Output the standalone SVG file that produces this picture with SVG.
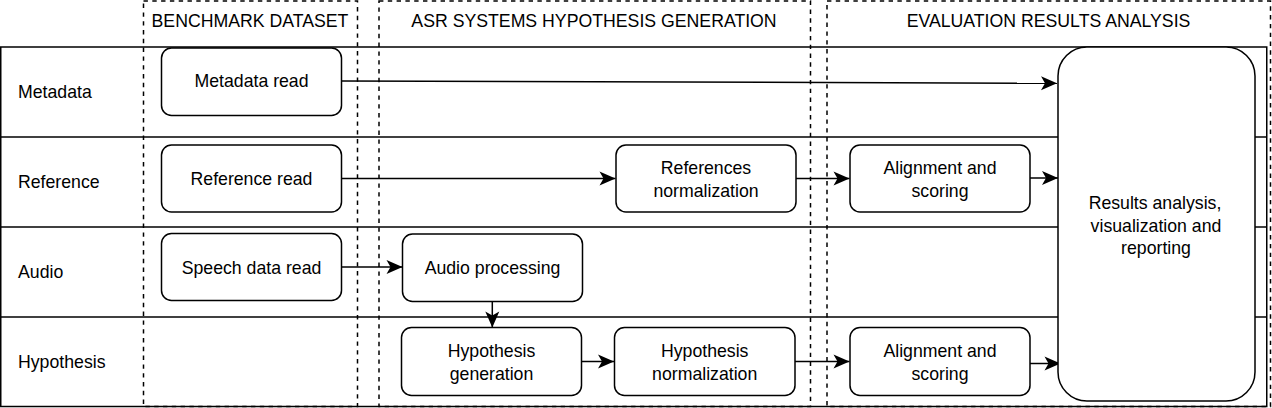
<svg xmlns="http://www.w3.org/2000/svg" width="1272" height="408" viewBox="0 0 1272 408">
<style>
text{font-family:"Liberation Sans",Arial,sans-serif;font-size:17.7px;fill:#000}
.c{text-anchor:middle}
.lane{fill:none;stroke:#000;stroke-width:1.5}
.col{fill:none;stroke:#000;stroke-width:1.5;stroke-dasharray:4.4 4.4}
.node{fill:#fff;stroke:#000;stroke-width:1.5}
.edge{fill:none;stroke:#000;stroke-width:1.5}
</style>
<defs>
<marker id="arr" markerUnits="userSpaceOnUse" markerWidth="18" markerHeight="16" refX="16" refY="7" orient="auto" viewBox="0 0 18 16" overflow="visible">
<path d="M0,0 L16,7 L0,14 L4,7 Z" fill="#000"/>
</marker>
</defs>
<rect width="1272" height="408" fill="#fff"/>
<g id="lanes">
<rect class="lane" x="0.75" y="47" width="1266" height="359.5"/>
<line class="lane" x1="0.75" y1="137" x2="1266.75" y2="137"/>
<line class="lane" x1="0.75" y1="227" x2="1266.75" y2="227"/>
<line class="lane" x1="0.75" y1="317" x2="1266.75" y2="317"/>
<text x="18" y="98.3">Metadata</text>
<text x="18" y="188.3">Reference</text>
<text x="18" y="278.3">Audio</text>
<text x="18" y="367.5">Hypothesis</text>
</g>
<g id="columns">
<rect class="col" x="143.5" y="1" width="214" height="405.5"/>
<rect class="col" x="379" y="1" width="431.5" height="405.5"/>
<rect class="col" x="827" y="1" width="443.5" height="405.5"/>
<text class="c" x="250" y="27.3">BENCHMARK DATASET</text>
<text class="c" x="594" y="27.3">ASR SYSTEMS HYPOTHESIS GENERATION</text>
<text class="c" x="1048.5" y="27.3">EVALUATION RESULTS ANALYSIS</text>
</g>
<g id="connectors">
<line class="edge" x1="341.5" y1="81" x2="1057" y2="83.3" marker-end="url(#arr)"/>
<line class="edge" x1="341.5" y1="178.5" x2="615.5" y2="178.5" marker-end="url(#arr)"/>
<line class="edge" x1="796" y1="178.5" x2="849.5" y2="178.5" marker-end="url(#arr)"/>
<line class="edge" x1="1030" y1="178" x2="1058" y2="178" marker-end="url(#arr)"/>
<line class="edge" x1="341.5" y1="267" x2="402.5" y2="267" marker-end="url(#arr)"/>
<line class="edge" x1="492.3" y1="301.5" x2="492.3" y2="327.5" marker-end="url(#arr)"/>
<line class="edge" x1="581.5" y1="361.5" x2="614" y2="361.5" marker-end="url(#arr)"/>
<line class="edge" x1="795" y1="361.5" x2="849.5" y2="361.5" marker-end="url(#arr)"/>
<line class="edge" x1="1030" y1="363.5" x2="1060.5" y2="363.5" marker-end="url(#arr)"/>
</g>
<g id="metadata-read">
<rect class="node" x="161.5" y="48" width="180" height="67.5" rx="10"/>
<text class="c" x="251.5" y="87.3">Metadata read</text>
</g>
<g id="reference-read">
<rect class="node" x="161.5" y="145" width="180" height="67" rx="10"/>
<text class="c" x="251.5" y="185">Reference read</text>
</g>
<g id="speech-data-read">
<rect class="node" x="161.5" y="233.5" width="180" height="67" rx="10"/>
<text class="c" x="251.5" y="273.5">Speech data read</text>
</g>
<g id="audio-processing">
<rect class="node" x="402.5" y="234" width="180" height="67.5" rx="10"/>
<text class="c" x="492.5" y="273.5">Audio processing</text>
</g>
<g id="references-normalization">
<rect class="node" x="616" y="145" width="180" height="67" rx="10"/>
<text class="c" x="706" y="174">References</text>
<text class="c" x="706" y="196.7">normalization</text>
</g>
<g id="alignment-reference">
<rect class="node" x="850" y="145" width="180" height="67" rx="10"/>
<text class="c" x="940" y="174">Alignment and</text>
<text class="c" x="940" y="196.7">scoring</text>
</g>
<g id="hypothesis-generation">
<rect class="node" x="401.5" y="327.5" width="180" height="68" rx="10"/>
<text class="c" x="491.5" y="357.3">Hypothesis</text>
<text class="c" x="491.5" y="379.8">generation</text>
</g>
<g id="hypothesis-normalization">
<rect class="node" x="614.5" y="327.5" width="180.5" height="68" rx="10"/>
<text class="c" x="704.7" y="357.3">Hypothesis</text>
<text class="c" x="704.7" y="379.8">normalization</text>
</g>
<g id="alignment-hypothesis">
<rect class="node" x="850" y="327.5" width="180" height="68" rx="10"/>
<text class="c" x="940" y="357.3">Alignment and</text>
<text class="c" x="940" y="379.8">scoring</text>
</g>
<g id="results-analysis">
<rect class="node" x="1058" y="47" width="197" height="354" rx="29"/>
<text class="c" x="1155" y="209.3">Results analysis,</text>
<text class="c" x="1156" y="231.6">visualization and</text>
<text class="c" x="1156" y="253.8">reporting</text>
</g>
</svg>
